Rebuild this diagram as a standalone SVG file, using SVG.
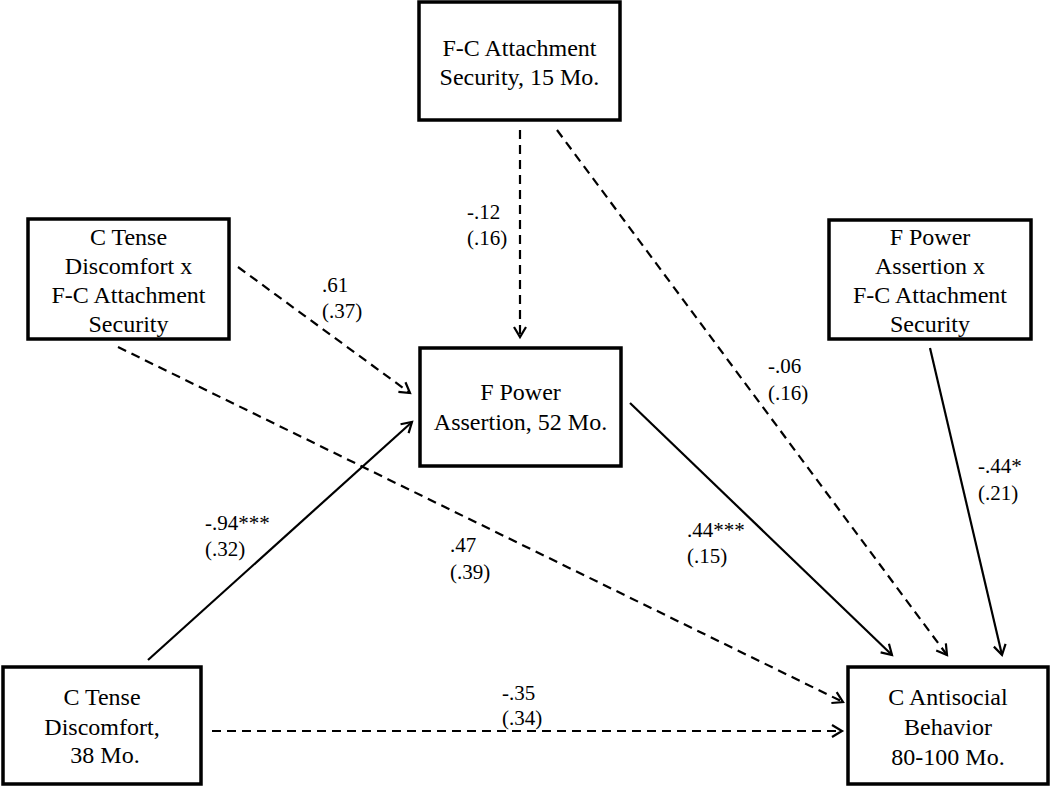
<svg xmlns="http://www.w3.org/2000/svg" width="1050" height="787" viewBox="0 0 1050 787">
<defs>
<style>
.box{fill:#fff;stroke:#000;stroke-width:3.5}
.nt{font-size:24px;fill:#000;text-anchor:middle}
.lb{font-size:21px;fill:#000}
.ln{fill:none;stroke:#000;stroke-width:2.2;marker-end:url(#arr)}
.dash{stroke-dasharray:9 6}
</style>
<marker id="arr" markerUnits="userSpaceOnUse" markerWidth="20" markerHeight="20" refX="0" refY="0" viewBox="-12 -10 14 20" orient="auto">
<path d="M-10,-6 L0,0 L-10,6" fill="none" stroke="#000" stroke-width="2.2" stroke-dasharray="none"/>
</marker>
</defs>
<rect width="1050" height="787" fill="#fff"/>
<g id="connectors">
<path class="ln dash" d="M520,130 L520,337"/>
<path class="ln dash" d="M557,130 L947,655"/>
<path class="ln dash" d="M238,267 L410,393"/>
<path class="ln dash" d="M118,347 L843,702"/>
<path class="ln" d="M148,660 L412,422"/>
<path class="ln" d="M630,403 L892,655"/>
<path class="ln" d="M930,348 L1002,655"/>
<path class="ln dash" d="M212,731 L842,731"/>
</g>
<g font-family="Liberation Serif, Times New Roman, serif">
<g id="labels">
<text class="lb" x="467" y="219">-.12</text><text class="lb" x="467" y="245">(.16)</text>
<text class="lb" x="322" y="292">.61</text><text class="lb" x="322" y="318">(.37)</text>
<text class="lb" x="768" y="373">-.06</text><text class="lb" x="768" y="400">(.16)</text>
<text class="lb" x="978" y="473">-.44*</text><text class="lb" x="978" y="500">(.21)</text>
<text class="lb" x="687" y="537">.44***</text><text class="lb" x="687" y="563">(.15)</text>
<text class="lb" x="205" y="530">-.94***</text><text class="lb" x="205" y="556">(.32)</text>
<text class="lb" x="450" y="552">.47</text><text class="lb" x="450" y="579">(.39)</text>
<text class="lb" x="502" y="700">-.35</text><text class="lb" x="502" y="725">(.34)</text>
</g>
<g id="n_top"><rect class="box" x="419" y="2" width="201" height="118"/>
<text class="nt" x="519.5" y="56">F-C Attachment</text><text class="nt" x="519.5" y="85">Security, 15 Mo.</text></g>
<g id="n_ctd_x"><rect class="box" x="28" y="219" width="201" height="120"/>
<text class="nt" x="128.5" y="245">C Tense</text><text class="nt" x="128.5" y="274">Discomfort x</text><text class="nt" x="128.5" y="303">F-C Attachment</text><text class="nt" x="128.5" y="332">Security</text></g>
<g id="n_fpa_x"><rect class="box" x="829" y="220" width="202" height="119"/>
<text class="nt" x="930" y="245">F Power</text><text class="nt" x="930" y="274">Assertion x</text><text class="nt" x="930" y="303">F-C Attachment</text><text class="nt" x="930" y="332">Security</text></g>
<g id="n_fpa"><rect class="box" x="420" y="348" width="201" height="118"/>
<text class="nt" x="520.5" y="400">F Power</text><text class="nt" x="520.5" y="430">Assertion, 52 Mo.</text></g>
<g id="n_ctd"><rect class="box" x="3" y="667" width="198" height="117"/>
<text class="nt" x="102" y="705">C Tense</text><text class="nt" x="102" y="735">Discomfort,</text><text class="nt" x="105" y="763">38 Mo.</text></g>
<g id="n_cab"><rect class="box" x="848" y="667" width="200" height="117"/>
<text class="nt" x="948" y="705">C Antisocial</text><text class="nt" x="948" y="735">Behavior</text><text class="nt" x="948" y="765">80-100 Mo.</text></g>
</g>
</svg>
